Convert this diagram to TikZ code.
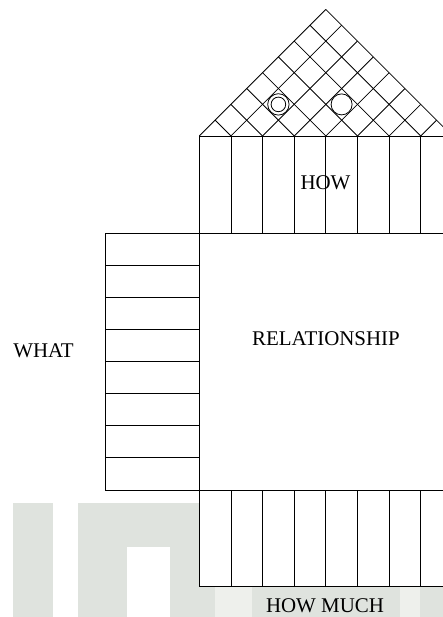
\documentclass[tikz,border=0pt]{standalone}
\usepackage{fontspec}
\setmainfont{Liberation Serif}
\definecolor{wmgray}{RGB}{223,227,222}
\definecolor{wmlight}{RGB}{238,240,236}
\begin{document}
\begin{tikzpicture}[x=1bp,y=-1bp,line width=0.8bp,
  lbl/.style={font=\fontsize{21}{25}\selectfont,inner sep=0pt,anchor=base},
  grid line/.style={draw=black,line width=0.8bp}]
\useasboundingbox (0,0) rectangle (443,617);
\clip (0,0) rectangle (443,617);
\def\xo{199.3}
\def\u{31.63}
% faint background watermark
\fill[wmgray] (13,503) rectangle (53,617);
\fill[wmgray] (78,503) rectangle (199,617);
\fill[white] (127,547) rectangle (170,617);
\fill[wmgray] (199,586) rectangle (443,617);
\fill[wmlight] (215,586) rectangle (252,617);
\fill[wmlight] (400,586) rectangle (420,617);
% roof grid
\foreach \k in {0,...,8}{
  \draw[grid line] ({\xo+\k*\u},136) -- ++({(8-\k)*\u/2},{-(8-\k)*\u/2});
  \draw[grid line] ({\xo+\k*\u},136) -- ++({-\k*\u/2},{-\k*\u/2});
}
% circles in the roof
\draw (278.4,104.4) circle[radius=10.7];
\draw (278.4,104.4) circle[radius=7.3];
\draw (341.6,104.4) circle[radius=10.5];
% HOW block
\draw[fill=white] (\xo,136) rectangle ({\xo+8*\u},233);
\foreach \k in {1,...,7}{
  \draw ({\xo+\k*\u},136) -- ({\xo+\k*\u},233);
}
% main relationship square
\draw (\xo,233) rectangle ({\xo+8*\u},490);
% HOW MUCH block
\draw[fill=white] (\xo,490) rectangle ({\xo+8*\u},586);
\foreach \k in {1,...,7}{
  \draw ({\xo+\k*\u},490) -- ({\xo+\k*\u},586);
}
% WHAT block
\draw (105,233) rectangle (\xo,490);
\foreach \i in {1,...,7}{
  \draw (105,{233+\i*32.125}) -- (\xo,{233+\i*32.125});
}
% labels
\node[lbl] (how) at (325.5,189) {HOW};
\node[lbl] (rel) at (326,345) {RELATIONSHIP};
\node[lbl] (what) at (43.5,357) {WHAT};
\node[lbl] (howmuch) at (325,612.5) {HOW MUCH};
\end{tikzpicture}
\end{document}
